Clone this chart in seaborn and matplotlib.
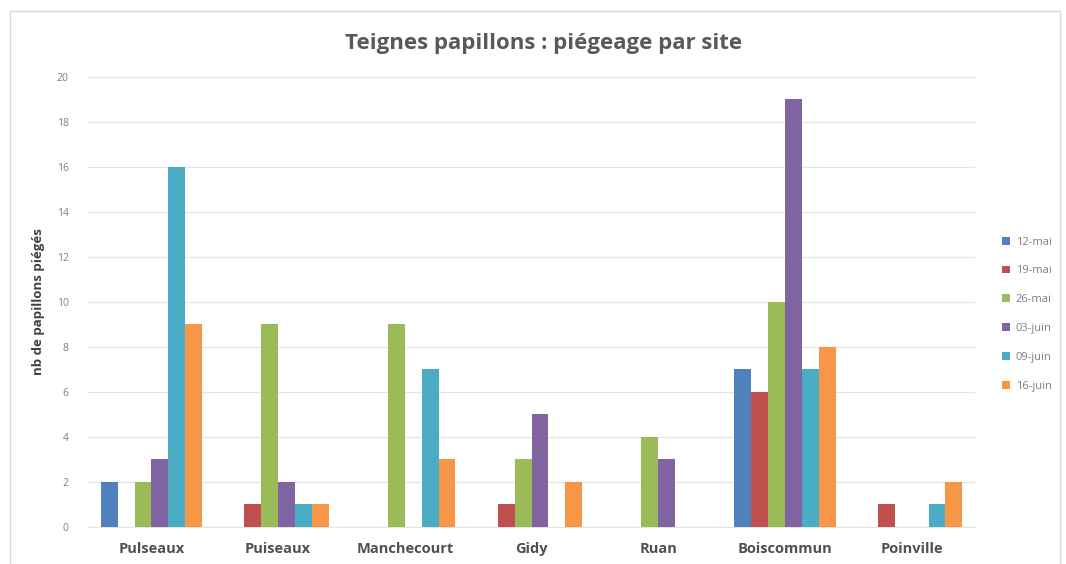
import matplotlib
matplotlib.use('Agg')
import matplotlib.pyplot as plt
import seaborn as sns
import pandas as pd
from matplotlib.patches import Rectangle

# Données
sites = ['Pulseaux', 'Puiseaux', 'Manchecourt', 'Gidy', 'Ruan', 'Boiscommun', 'Poinville']
dates = ['12-mai', '19-mai', '26-mai', '03-juin', '09-juin', '16-juin']
mai_12 = [2, 0, 0, 0, 0, 7, 0]
mai_19 = [0, 1, 0, 1, 0, 6, 1]
mai_26 = [2, 9, 9, 3, 4, 10, 0]
juin_03 = [3, 2, 0, 5, 3, 19, 0]
juin_09 = [16, 1, 7, 0, 0, 7, 1]
juin_16 = [9, 1, 3, 2, 0, 8, 2]
couleurs = ['#4F81BD', '#C0504D', '#9BBB59', '#8064A2', '#4BACC6', '#F79646']

series = [mai_12, mai_19, mai_26, juin_03, juin_09, juin_16]
rows = []
for date, valeurs in zip(dates, series):
    for site, v in zip(sites, valeurs):
        rows.append({'site': site, 'date': date, 'nb': v})
df = pd.DataFrame(rows)

sns.set_style('white')
plt.rcParams['font.family'] = ['Open Sans', 'DejaVu Sans']

fig = plt.figure(figsize=(10.66, 5.64), dpi=100)
ax = fig.add_axes([0.0826, 0.0656, 0.832, 0.798])

sns.barplot(data=df, x='site', y='nb', hue='date', order=sites, hue_order=dates,
            palette=couleurs, saturation=1, width=0.8, errorbar=None, linewidth=0,
            ax=ax, zorder=3)

ax.set_ylim(0, 20)
ax.set_yticks(range(0, 21, 2))
ax.yaxis.grid(True, color='#E4E4E4', linewidth=0.9, zorder=0)
ax.set_axisbelow(True)
for s in ['top', 'right', 'left']:
    ax.spines[s].set_visible(False)
ax.spines['bottom'].set_color('#E4E4E4')
ax.tick_params(axis='y', length=0, labelsize=7.5, labelcolor='#7F7F7F', pad=14)
ax.tick_params(axis='x', length=0, labelsize=10.5, labelcolor='#505050', pad=11)
for lbl in ax.get_xticklabels():
    lbl.set_fontweight('bold')
ax.set_xlabel('')
ax.set_ylabel('nb de papillons piégés', fontsize=9.5, fontweight='bold', color='#404040', labelpad=8)

fig.suptitle('Teignes papillons : piégeage par site', x=0.51, y=0.942,
             fontsize=16, fontweight='bold', color='#595959')

handles, labels = ax.get_legend_handles_labels()
ax.legend(handles, labels, loc='center left', bbox_to_anchor=(0.931, 0.443),
          bbox_transform=fig.transFigure, frameon=False, fontsize=8,
          labelcolor='#7F7F7F', handlelength=0.7, handleheight=0.7,
          handletextpad=0.5, labelspacing=1.6)

fig.patches.append(Rectangle((0.009, -0.01), 0.985, 0.99, transform=fig.transFigure,
                             fill=False, edgecolor='#D9D9D9', linewidth=1))

fig.savefig('out.png', dpi=100)
